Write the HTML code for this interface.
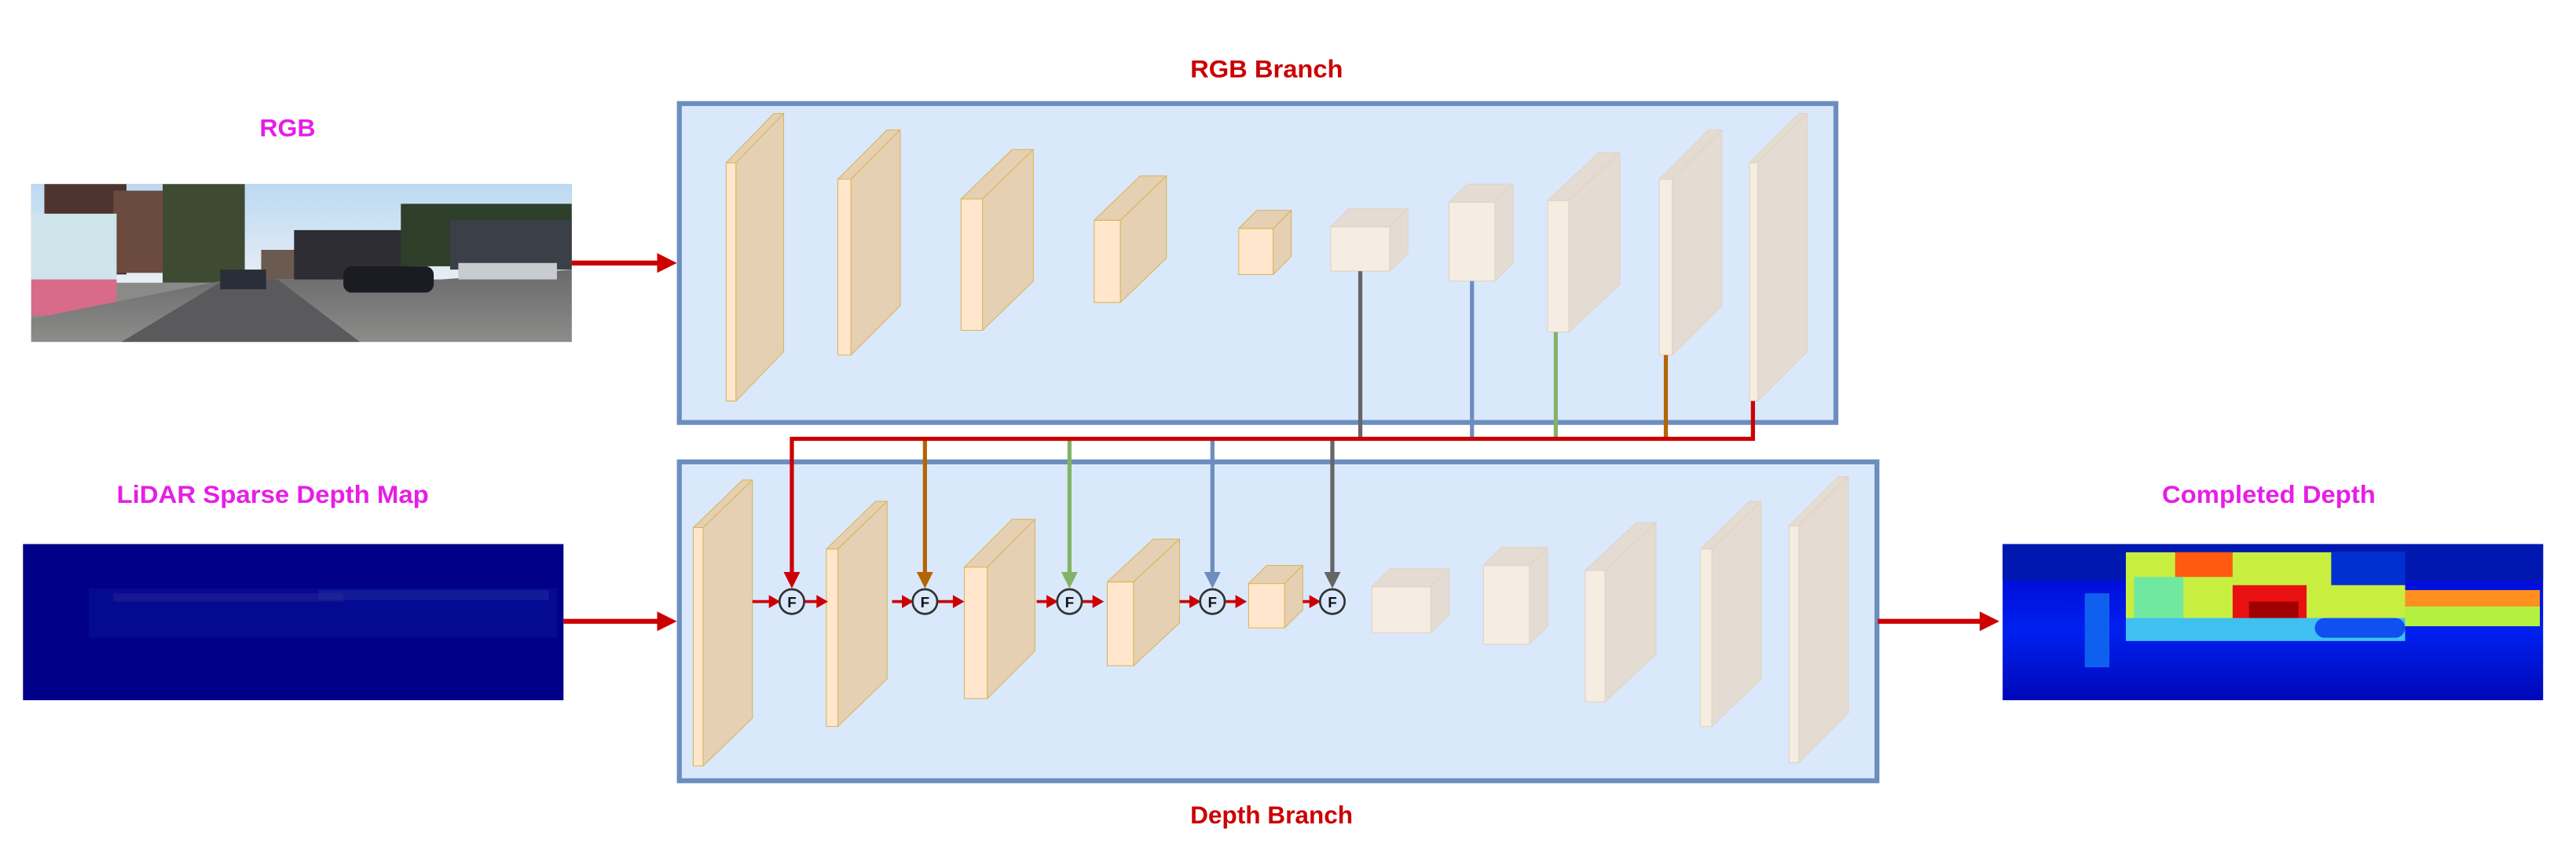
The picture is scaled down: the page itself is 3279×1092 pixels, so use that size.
<!DOCTYPE html>
<html><head><meta charset="utf-8"><style>
html,body{margin:0;padding:0;background:#fff}
svg{display:block}
text{font-family:"Liberation Sans Narrow","Liberation Sans",sans-serif;font-weight:bold}
</style></head><body>
<svg width="3279" height="1092" viewBox="0 0 1568 522" preserveAspectRatio="none" xmlns="http://www.w3.org/2000/svg">
<defs>
<linearGradient id="sky" x1="0" y1="0" x2="0" y2="1"><stop offset="0" stop-color="#bcd9f2"/><stop offset="1" stop-color="#e8eef4"/></linearGradient>
<linearGradient id="dm" x1="0" y1="0" x2="0" y2="1"><stop offset="0" stop-color="#0000c8"/><stop offset="0.55" stop-color="#0020f0"/><stop offset="1" stop-color="#0008b8"/></linearGradient>
<linearGradient id="road" x1="0" y1="0" x2="0" y2="1"><stop offset="0" stop-color="#6a6a6c"/><stop offset="1" stop-color="#8c8c8a"/></linearGradient>
</defs>
<rect width="1568" height="522" fill="#fff"/>
<text x="771" y="47" font-size="15" fill="#cc0000" text-anchor="middle" textLength="93" lengthAdjust="spacingAndGlyphs">RGB Branch</text>
<text x="774" y="501" font-size="15" fill="#cc0000" text-anchor="middle" textLength="99" lengthAdjust="spacingAndGlyphs">Depth Branch</text>
<text x="175" y="83" font-size="15" fill="#e61ee6" text-anchor="middle" textLength="34" lengthAdjust="spacingAndGlyphs">RGB</text>
<text x="166" y="306" font-size="15" fill="#e61ee6" text-anchor="middle" textLength="190" lengthAdjust="spacingAndGlyphs">LiDAR Sparse Depth Map</text>
<text x="1381" y="306" font-size="15" fill="#e61ee6" text-anchor="middle" textLength="130" lengthAdjust="spacingAndGlyphs">Completed Depth</text>

<!-- RGB photo -->
<g transform="translate(19,112)">
<rect width="329" height="96" fill="#8a8a88"/>
<rect width="329" height="60" fill="url(#sky)"/>
<rect x="8" y="0" width="50" height="55" fill="#4e3430"/>
<rect x="50" y="4" width="30" height="50" fill="#6b4a40"/>
<rect x="0" y="18" width="52" height="60" fill="#cfe3ea"/>
<rect x="0" y="58" width="52" height="22" fill="#d86a8a"/>
<rect x="80" y="0" width="50" height="60" fill="#3f4a32"/>
<rect x="140" y="40" width="25" height="18" fill="#6a5a50"/>
<rect x="160" y="28" width="70" height="40" fill="#2d2d33"/>
<rect x="225" y="12" width="104" height="38" fill="#2e3f2a"/>
<rect x="255" y="22" width="74" height="30" fill="#3a3f48"/>
<polygon points="0,96 0,82 120,58 160,58 250,58 329,52 329,96" fill="url(#road)"/>
<polygon points="55,96 118,58 150,58 200,96" fill="#5a5a5c"/>
<rect x="190" y="50" width="55" height="16" rx="5" fill="#1b1c22"/>
<rect x="115" y="52" width="28" height="12" fill="#2a2e38"/>
<rect x="260" y="48" width="60" height="10" fill="#c8ccd0"/>
</g>
<!-- LiDAR -->
<g transform="translate(14,331)">
<rect width="329" height="95" fill="#000088"/>
<rect x="40" y="27" width="285" height="30" fill="#08109a" opacity="0.6"/>
<rect x="55" y="30" width="140" height="5" fill="#302a90" opacity="0.4"/>
<rect x="180" y="28" width="140" height="6" fill="#2838a0" opacity="0.4"/>
</g>
<!-- Completed depth -->
<g transform="translate(1219,331)">
<rect width="329" height="95" fill="url(#dm)"/>
<rect width="329" height="22" fill="#0018b0"/>
<rect x="75" y="5" width="170" height="45" fill="#c8ee40"/>
<rect x="80" y="20" width="30" height="25" fill="#70e8a0"/>
<rect x="200" y="5" width="45" height="20" fill="#0030d0"/>
<rect x="105" y="5" width="35" height="15" fill="#ff5a10"/>
<rect x="140" y="25" width="45" height="22" fill="#e81010"/>
<rect x="150" y="35" width="30" height="10" fill="#a00000"/>
<rect x="245" y="28" width="82" height="17" fill="#ff9020"/>
<rect x="245" y="38" width="82" height="12" fill="#b4f040"/>
<rect x="75" y="45" width="170" height="14" fill="#40c0f0"/>
<rect x="50" y="30" width="15" height="45" fill="#1060f0"/>
<rect x="190" y="45" width="55" height="12" rx="6" fill="#1050f0"/>
</g>

<rect x="413.5" y="63" width="704" height="194" fill="#dae8fc" stroke="#6c8ebf" stroke-width="3"/>
<rect x="413.5" y="281" width="729" height="194" fill="#dae8fc" stroke="#6c8ebf" stroke-width="3"/>

<g stroke="#d6b656" stroke-width="0.5" stroke-linejoin="round">
<g fill="#ffe6cc">
<rect x="442" y="99" width="6" height="145"/><rect x="510" y="109" width="8" height="107"/><rect x="585" y="121" width="13" height="80"/><rect x="666" y="134" width="16" height="50"/><rect x="754" y="139" width="21" height="28"/>
</g>
<g fill="#e6d0b3">
<polygon points="442,99 471,69 477,69 448,99"/><polygon points="448,99 477,69 477,214 448,244"/>
<polygon points="510,109 540,79 548,79 518,109"/><polygon points="518,109 548,79 548,186 518,216"/>
<polygon points="585,121 616,91 629,91 598,121"/><polygon points="598,121 629,91 629,171 598,201"/>
<polygon points="666,134 694,107 710,107 682,134"/><polygon points="682,134 710,107 710,157 682,184"/>
<polygon points="754,139 765,128 786,128 775,139"/><polygon points="775,139 786,128 786,156 775,167"/>
</g>
</g>
<g stroke="#e0d2c0" stroke-width="0.5" stroke-linejoin="round">
<g fill="#f5ece2">
<rect x="810" y="138" width="36" height="27"/><rect x="882" y="123" width="28" height="48"/><rect x="942" y="122" width="13" height="80"/><rect x="1010" y="109" width="8" height="107"/><rect x="1065" y="99" width="5" height="145"/>
</g>
<g fill="#e4dcd3">
<polygon points="810,138 821,127 857,127 846,138"/><polygon points="846,138 857,127 857,154 846,165"/>
<polygon points="882,123 893,112 921,112 910,123"/><polygon points="910,123 921,112 921,160 910,171"/>
<polygon points="942,122 973,93 986,93 955,122"/><polygon points="955,122 986,93 986,173 955,202"/>
<polygon points="1010,109 1040,79 1048,79 1018,109"/><polygon points="1018,109 1048,79 1048,186 1018,216"/>
<polygon points="1065,99 1095,69 1100,69 1070,99"/><polygon points="1070,99 1100,69 1100,214 1070,244"/>
</g>
</g>

<g stroke="#d6b656" stroke-width="0.5" stroke-linejoin="round">
<g fill="#ffe6cc">
<rect x="422" y="321" width="6" height="145"/><rect x="503" y="334" width="7" height="108"/><rect x="587" y="345" width="14" height="80"/><rect x="674" y="354" width="16" height="51"/><rect x="760" y="355" width="22" height="27"/>
</g>
<g fill="#e6d0b3">
<polygon points="422,321 452,292 458,292 428,321"/><polygon points="428,321 458,292 458,437 428,466"/>
<polygon points="503,334 533,305 540,305 510,334"/><polygon points="510,334 540,305 540,413 510,442"/>
<polygon points="587,345 616,316 630,316 601,345"/><polygon points="601,345 630,316 630,396 601,425"/>
<polygon points="674,354 702,328 718,328 690,354"/><polygon points="690,354 718,328 718,379 690,405"/>
<polygon points="760,355 771,344 793,344 782,355"/><polygon points="782,355 793,344 793,371 782,382"/>
</g>
</g>
<g stroke="#e0d2c0" stroke-width="0.5" stroke-linejoin="round">
<g fill="#f5ece2">
<rect x="835" y="357" width="36" height="28"/><rect x="903" y="344" width="28" height="48"/><rect x="965" y="347" width="12" height="80"/><rect x="1035" y="334" width="7" height="108"/><rect x="1089" y="320" width="6" height="144"/>
</g>
<g fill="#e4dcd3">
<polygon points="835,357 846,346 882,346 871,357"/><polygon points="871,357 882,346 882,374 871,385"/>
<polygon points="903,344 914,333 942,333 931,344"/><polygon points="931,344 942,333 942,381 931,392"/>
<polygon points="965,347 996,318 1008,318 977,347"/><polygon points="977,347 1008,318 1008,398 977,427"/>
<polygon points="1035,334 1065,305 1072,305 1042,334"/><polygon points="1042,334 1072,305 1072,413 1042,442"/>
<polygon points="1089,320 1119,290 1125,290 1095,320"/><polygon points="1095,320 1125,290 1125,434 1095,464"/>
</g>
</g>

<g stroke-width="2.5" fill="none">
<line x1="828" y1="165" x2="828" y2="267" stroke="#666"/>
<line x1="896" y1="171" x2="896" y2="267" stroke="#6c8ebf"/>
<line x1="947" y1="202" x2="947" y2="267" stroke="#82b366"/>
<line x1="1014" y1="216" x2="1014" y2="267" stroke="#b46504"/>
<line x1="563" y1="267" x2="563" y2="351" stroke="#b46504"/>
<line x1="651" y1="267" x2="651" y2="351" stroke="#82b366"/>
<line x1="738" y1="267" x2="738" y2="351" stroke="#6c8ebf"/>
<line x1="811" y1="268" x2="811" y2="351" stroke="#666"/>
<polyline points="1067,244 1067,267 482,267 482,351" stroke="#cc0000" stroke-linejoin="miter"/>
</g>
<polygon points="477,348 487,348 482,358" fill="#cc0000"/>
<polygon points="558,348 568,348 563,358" fill="#b46504"/>
<polygon points="646,348 656,348 651,358" fill="#82b366"/>
<polygon points="733,348 743,348 738,358" fill="#6c8ebf"/>
<polygon points="806,348 816,348 811,358" fill="#666"/>

<g stroke="#cc0000" stroke-width="1.8">
<line x1="458" y1="366" x2="470" y2="366"/><line x1="490" y1="366" x2="499" y2="366"/>
<line x1="543" y1="366" x2="551" y2="366"/><line x1="571" y1="366" x2="583" y2="366"/>
<line x1="631" y1="366" x2="639" y2="366"/><line x1="659" y1="366" x2="667" y2="366"/>
<line x1="718" y1="366" x2="726" y2="366"/><line x1="746" y1="366" x2="754" y2="366"/>
<line x1="793" y1="366" x2="799" y2="366"/>
</g>
<g fill="#cc0000">
<polygon points="468,362 475,366 468,370"/><polygon points="497,362 504,366 497,370"/>
<polygon points="549,362 556,366 549,370"/><polygon points="580,362 587,366 580,370"/>
<polygon points="637,362 644,366 637,370"/><polygon points="665,362 672,366 665,370"/>
<polygon points="724,362 731,366 724,370"/><polygon points="752,362 759,366 752,370"/>
<polygon points="797,362 804,366 797,370"/>
</g>
<g fill="#dae8fc" stroke="#333" stroke-width="1.3">
<circle cx="482" cy="366" r="7.5"/><circle cx="563" cy="366" r="7.5"/><circle cx="651" cy="366" r="7.5"/><circle cx="738" cy="366" r="7.5"/><circle cx="811" cy="366" r="7.5"/>
</g>
<g font-size="9" fill="#111" text-anchor="middle">
<text x="482" y="369.5">F</text><text x="563" y="369.5">F</text><text x="651" y="369.5">F</text><text x="738" y="369.5">F</text><text x="811" y="369.5">F</text>
</g>

<g stroke="#cc0000" stroke-width="3">
<line x1="348" y1="160" x2="402" y2="160"/>
<line x1="343" y1="378" x2="402" y2="378"/>
<line x1="1143" y1="378" x2="1207" y2="378"/>
</g>
<g fill="#cc0000">
<polygon points="400,154 412,160 400,166"/>
<polygon points="400,372 412,378 400,384"/>
<polygon points="1205,372 1217,378 1205,384"/>
</g>
</svg>
</body></html>
